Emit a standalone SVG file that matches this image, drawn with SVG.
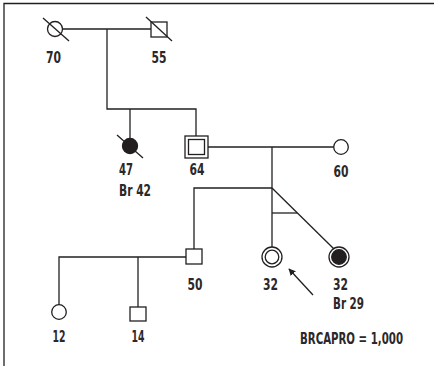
<svg xmlns="http://www.w3.org/2000/svg" width="434" height="366" viewBox="0 0 434 366">
<defs>
<marker id="ah" viewBox="0 0 10 10" refX="9" refY="5" markerWidth="7" markerHeight="7" orient="auto" markerUnits="userSpaceOnUse">
<path d="M0,0 L10,5 L0,10 z" fill="#231f20"/>
</marker>
</defs>
<style>
.ln{fill:none;stroke:#231f20;stroke-width:1.3}
.sh{fill:#fff;stroke:#231f20;stroke-width:1.3}
.af{fill:#231f20;stroke:#231f20;stroke-width:1.3}
.t{font-family:"DejaVu Sans Condensed","DejaVu Sans",sans-serif;font-size:15.5px;font-weight:bold;fill:#2b2829;text-anchor:middle}
.tl{font-family:"DejaVu Sans Condensed","DejaVu Sans",sans-serif;font-size:15.5px;font-weight:bold;fill:#2b2829;text-anchor:start}
</style>
<rect width="434" height="366" fill="#fff"/>
<path class="ln" d="M4,366 V3.5 H434" stroke="#555"/>
<g id="connectors">
<path class="ln" d="M63,29 H151"/>
<path class="ln" d="M107,29 V109 H196 V136"/>
<path class="ln" d="M130,109 V138"/>
<path class="ln" d="M208,147 H334"/>
<path class="ln" d="M272,147 V247"/>
<path class="ln" d="M272,188 H194 V249"/>
<path class="ln" d="M272,188 L334,249"/>
<path class="ln" d="M272,213 H297"/>
<path class="ln" d="M186,257 H59 V305"/>
<path class="ln" d="M138,257 V307"/>
<path class="ln" d="M313,295 L289,269" marker-end="url(#ah)"/>
</g>
<g id="n70">
<circle class="sh" cx="55" cy="29" r="7.5"/>
<line class="ln" x1="43" y1="18" x2="69" y2="41"/>
<text class="t" x="53.5" y="63" textLength="15" lengthAdjust="spacingAndGlyphs">70</text>
</g>
<g id="n55">
<rect class="sh" x="151" y="22" width="16" height="15"/>
<line class="ln" x1="146" y1="17" x2="172" y2="41"/>
<text class="t" x="159" y="63" textLength="15" lengthAdjust="spacingAndGlyphs">55</text>
</g>
<g id="n47">
<circle class="af" cx="130" cy="146" r="7.5"/>
<line class="ln" x1="117" y1="135" x2="143" y2="158"/>
<text class="tl" x="119" y="175" textLength="14" lengthAdjust="spacingAndGlyphs">47</text>
<text class="tl" x="119" y="196" textLength="32" lengthAdjust="spacingAndGlyphs">Br 42</text>
</g>
<g id="n64">
<rect class="sh" x="185" y="136" width="23" height="22"/>
<rect class="sh" x="188.5" y="139.5" width="16" height="15"/>
<text class="t" x="197" y="175" textLength="15" lengthAdjust="spacingAndGlyphs">64</text>
</g>
<g id="n60">
<circle class="sh" cx="341" cy="147" r="7.3"/>
<text class="t" x="341" y="177" textLength="15" lengthAdjust="spacingAndGlyphs">60</text>
</g>
<g id="n50">
<rect class="sh" x="186" y="249" width="16" height="15"/>
<text class="t" x="195" y="290" textLength="15" lengthAdjust="spacingAndGlyphs">50</text>
</g>
<g id="n32a">
<circle class="sh" cx="272" cy="257" r="10"/>
<circle class="sh" cx="272" cy="257" r="6.8"/>
<text class="t" x="270.5" y="290" textLength="15" lengthAdjust="spacingAndGlyphs">32</text>
</g>
<g id="n32b">
<circle class="sh" cx="339" cy="257" r="10"/>
<circle class="af" cx="339" cy="257" r="7.3"/>
<text class="tl" x="333" y="290" textLength="15" lengthAdjust="spacingAndGlyphs">32</text>
<text class="tl" x="333" y="309" textLength="31" lengthAdjust="spacingAndGlyphs">Br 29</text>
</g>
<g id="n12">
<circle class="sh" cx="59" cy="312" r="7.3"/>
<text class="t" x="59" y="342" textLength="13" lengthAdjust="spacingAndGlyphs">12</text>
</g>
<g id="n14">
<rect class="sh" x="130" y="307" width="16" height="14"/>
<text class="t" x="138" y="342" textLength="13" lengthAdjust="spacingAndGlyphs">14</text>
</g>
<text class="tl" transform="translate(300,344) scale(0.8,1)" x="0" y="0" textLength="128.75" lengthAdjust="spacingAndGlyphs">BRCAPRO = 1,000</text>
</svg>
